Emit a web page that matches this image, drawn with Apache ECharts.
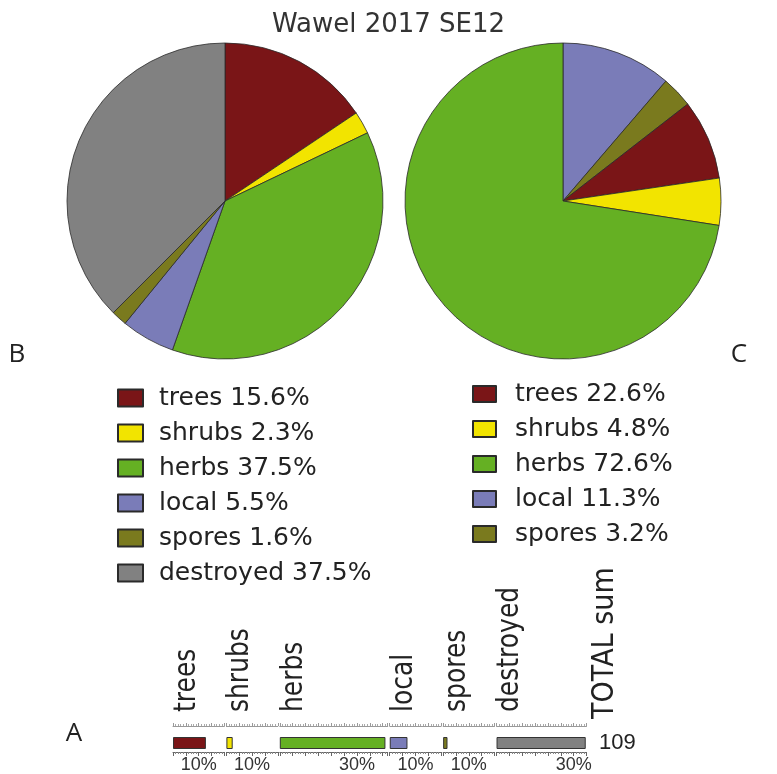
<!DOCTYPE html>
<html>
<head>
<meta charset="utf-8">
<script src="https://cdn.jsdelivr.net/npm/echarts@6/dist/echarts.min.js"></script>
<style>html,body{margin:0;padding:0;background:#fff}#c{width:777px;height:774px}</style>
</head>
<body>
<div id="c"></div>
<script>
// ---- data ----
const categories = ['trees', 'shrubs', 'herbs', 'local', 'spores', 'destroyed'];
const colors = ['#7a1517', '#f2e400', '#65b023', '#7a7cb8', '#7a7a1e', '#818181'];
// Pie B (drawn clockwise from 12 o'clock in this order)
const pieBNames = ['trees', 'shrubs', 'herbs', 'local', 'spores', 'destroyed'];
const pieBValues = [15.6, 2.3, 37.5, 5.5, 1.6, 37.5];
const legendBNames = ['trees', 'shrubs', 'herbs', 'local', 'spores', 'destroyed'];
const legendBPct = ['15.6', '2.3', '37.5', '5.5', '1.6', '37.5'];
// Pie C (drawn clockwise from 12 o'clock in this order, slice sizes)
const pieCNames = ['local', 'spores', 'trees', 'shrubs', 'herbs'];
const pieCValues = [11.3, 3.2, 8.2, 4.8, 72.6];
const legendCNames = ['trees', 'shrubs', 'herbs', 'local', 'spores'];
const legendCPct = ['22.6', '4.8', '72.6', '11.3', '3.2'];
// Panel A strip bars (% values)
const barValues = [12.8, 2.45, 41.1, 6.9, 1.7, 34.7];
const stripMax = [20, 20, 42, 20, 20, 35];
const stripLabelAt = [10, 10, 30, 10, 10, 30];
const totalSum = 109;

// ---- layout ----
const pxPerPct = 2.57, stripX0 = 173, stripGap = 2;
const gridTop = 734, gridH = 18;
const colorOf = n => colors[categories.indexOf(n)];

const grids = [], xAxes = [], yAxes = [], barSeries = [], graphics = [];
let x = stripX0;
categories.forEach((cat, i) => {
  const w = stripMax[i] * pxPerPct;
  grids.push({ left: x, top: gridTop, width: w, height: gridH });
  xAxes.push({
    type: 'value', gridIndex: i, position: 'bottom', min: 0, max: stripMax[i], interval: 5,
    splitLine: { show: false },
    axisLine: { show: true, lineStyle: { color: '#666', width: 1 } },
    axisTick: { show: true, length: 4, lineStyle: { color: '#666' } },
    minorTick: { show: true, splitNumber: 5, length: 2, lineStyle: { color: '#888' } },
    axisLabel: {
      show: true, margin: 4, fontFamily: 'Liberation Sans', fontSize: 18, color: '#333',
      formatter: v => (v === stripLabelAt[i] ? v + '%' : '')
    }
  });
  xAxes.push({
    type: 'value', gridIndex: i, position: 'top', offset: 8, min: 0, max: stripMax[i], interval: 5,
    splitLine: { show: false },
    axisLine: { show: true, lineStyle: { color: '#999', width: 1 } },
    axisTick: { show: true, length: 3, lineStyle: { color: '#999' } },
    minorTick: { show: true, splitNumber: 5, length: 2, lineStyle: { color: '#aaa' } },
    axisLabel: { show: false }
  });
  yAxes.push({ type: 'category', gridIndex: i, data: [cat], show: false });
  barSeries.push({
    type: 'bar', xAxisIndex: 2 * i, yAxisIndex: i, data: [barValues[i]], barWidth: 12,
    itemStyle: { color: colors[i], borderColor: '#333', borderWidth: 1 },
    emphasis: { disabled: true }, silent: true
  });
  graphics.push({
    type: 'text', x: x - 1, y: 712, rotation: Math.PI / 2, scaleY: 1.2,
    style: { text: cat, font: '25px "DejaVu Sans"', fill: '#222', align: 'left', verticalAlign: 'top' }
  });
  x += w + stripGap;
});

graphics.push(
  { type: 'text', x: 590, y: 719, rotation: Math.PI / 2, scaleY: 1.1,
    style: { text: 'TOTAL sum', font: '27px "DejaVu Sans"', fill: '#222', align: 'left', verticalAlign: 'top' } },
  { type: 'text', x: 599, y: 743,
    style: { text: String(totalSum), font: '22px "Liberation Sans"', fill: '#222', align: 'left', verticalAlign: 'middle' } },
  { type: 'text', x: 17, y: 355,
    style: { text: 'B', font: '26px "Open Sans"', fill: '#222', align: 'center', verticalAlign: 'middle' } },
  { type: 'text', x: 739, y: 355,
    style: { text: 'C', font: '26px "Open Sans"', fill: '#222', align: 'center', verticalAlign: 'middle' } },
  { type: 'text', x: 74, y: 734,
    style: { text: 'A', font: '26px "Open Sans"', fill: '#222', align: 'center', verticalAlign: 'middle' } }
);

const pieCommon = {
  type: 'pie', radius: 158, startAngle: 90, clockwise: true,
  label: { show: false }, labelLine: { show: false },
  emphasis: { disabled: true }, animation: false,
  itemStyle: { borderColor: '#2a2a2a', borderWidth: 0.8 }
};

const legendText = { fontFamily: 'DejaVu Sans', fontSize: 25, color: '#222', lineHeight: 28 };

const option = {
  animation: false,
  title: {
    text: 'Wawel 2017 SE12', left: 'center', top: 7,
    textStyle: { fontFamily: 'DejaVu Sans', fontSize: 26, fontWeight: 'normal', color: '#333' }
  },
  legend: [
    {
      orient: 'vertical', left: 117, top: 384, padding: 0, itemGap: 7,
      itemWidth: 25, itemHeight: 17, icon: 'rect', selectedMode: false,
      data: legendBNames,
      formatter: n => n + ' ' + legendBPct[legendBNames.indexOf(n)] + '%',
      textStyle: Object.assign({ padding: [0, 0, 0, 11] }, legendText)
    },
    {
      orient: 'vertical', left: 472, top: 380, padding: 0, itemGap: 7,
      itemWidth: 23, itemHeight: 16, icon: 'rect', selectedMode: false,
      data: legendCNames,
      formatter: n => n + ' ' + legendCPct[legendCNames.indexOf(n)] + '%',
      textStyle: Object.assign({ padding: [0, 0, 0, 14] }, legendText)
    }
  ],
  grid: grids,
  xAxis: xAxes,
  yAxis: yAxes,
  series: [
    Object.assign({}, pieCommon, {
      name: 'B', center: [225, 201],
      data: pieBNames.map((n, i) => ({ name: n, value: pieBValues[i], itemStyle: { color: colorOf(n) } }))
    }),
    Object.assign({}, pieCommon, {
      name: 'C', center: [563, 201],
      data: pieCNames.map((n, i) => ({ name: n, value: pieCValues[i], itemStyle: { color: colorOf(n) } }))
    })
  ].concat(barSeries),
  graphic: graphics
};

const chart = echarts.init(document.getElementById('c'), null, { renderer: 'canvas' });
chart.setOption(option);
</script>
</body>
</html>
